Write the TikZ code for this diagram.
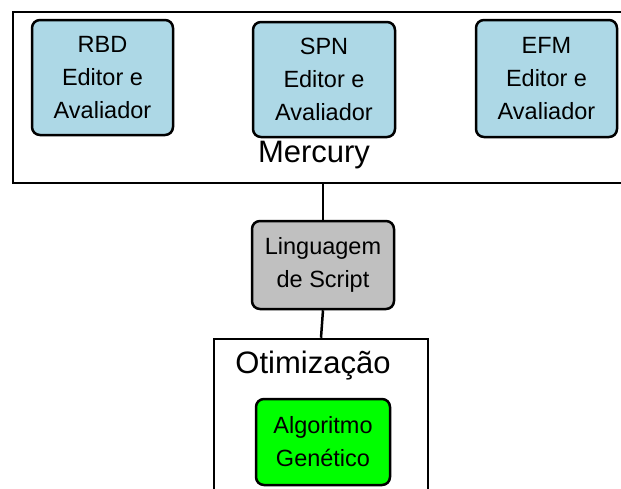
\documentclass[tikz,border=0pt]{standalone}
\usepackage{fontspec}
\setmainfont{Liberation Sans}
\begin{document}
\begin{tikzpicture}[x=1pt,y=-1pt,
  container/.style={draw=black, line width=2.5pt, fill=white, inner sep=0pt},
  tool/.style={draw=black, line width=2.5pt, rounded corners=8pt, inner sep=0pt,
    align=center, font=\fontsize{23.5}{33}\selectfont},
  biglabel/.style={inner sep=0pt, font=\fontsize{31}{36}\selectfont},
  link/.style={draw=black, line width=2.5pt}]
\useasboundingbox (0,0) rectangle (621,488);
\clip (0,0) rectangle (621,488);
\fill[white] (0,0) rectangle (621,488);
% Mercury container
\node[container, minimum width=627pt, minimum height=171pt] (merc) at (326.5,97.5) {};
\node[tool, fill={rgb,255:red,173;green,216;blue,230}, minimum width=141pt, minimum height=115pt] (rbd) at (102.5,77.5) {RBD\\Editor e\\Avaliador};
\node[tool, fill={rgb,255:red,173;green,216;blue,230}, minimum width=142pt, minimum height=115pt] (spn) at (324,79.5) {SPN\\Editor e\\Avaliador};
\node[tool, fill={rgb,255:red,173;green,216;blue,230}, minimum width=141pt, minimum height=117pt] (efm) at (546.5,78.5) {EFM\\Editor e\\Avaliador};
\node[biglabel] (mlabel) at (314,155) {Mercury};
% Script language
\node[tool, fill={rgb,255:red,192;green,192;blue,192}, minimum width=142pt, minimum height=88pt] (ling) at (323,265) {Linguagem\\de Script};
% Optimisation container
\node[container, minimum width=214pt, minimum height=171pt] (otim) at (321,424.5) {};
\node[biglabel] (olabel) at (313,366) {Otimização};
\node[tool, fill={rgb,255:red,0;green,255;blue,0}, minimum width=134pt, minimum height=86pt] (ga) at (323,442) {Algoritmo\\Genético};
% connectors
\draw[link] (ling.north |- merc.south) -- (ling.north);
\draw[link] (ling.south) -- (otim.north);
\end{tikzpicture}
\end{document}
